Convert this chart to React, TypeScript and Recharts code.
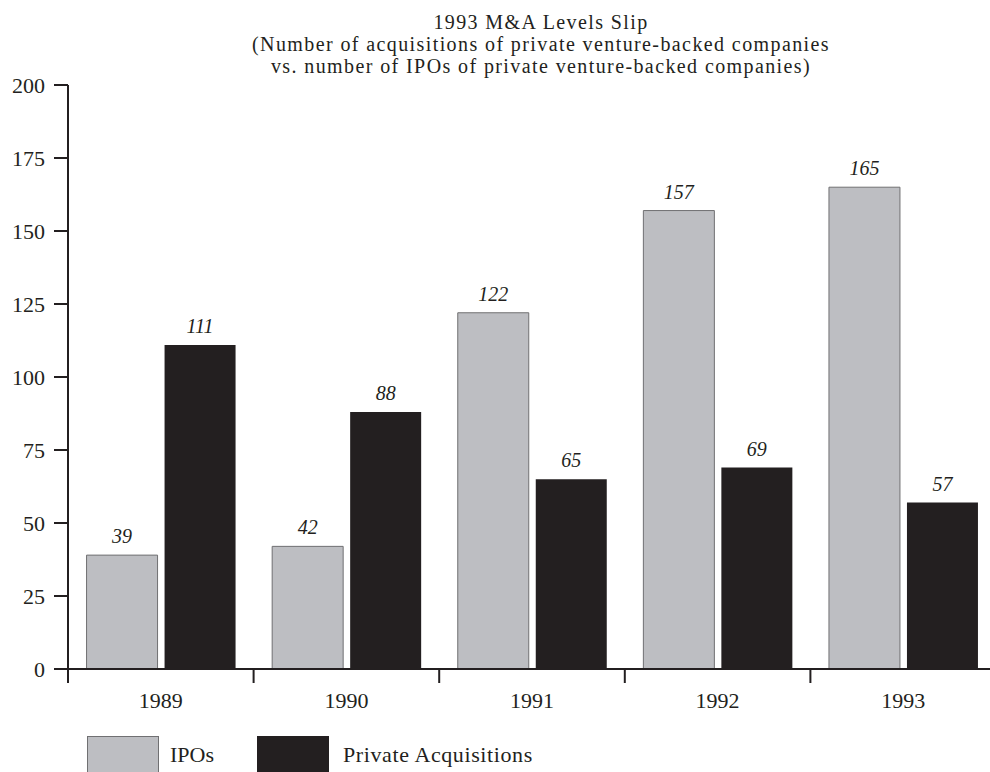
import { BarChart, Bar, XAxis, YAxis, LabelList } from 'recharts'

const years = ['1989', '1990', '1991', '1992', '1993']
const ipos = [39, 42, 122, 157, 165]
const acquisitions = [111, 88, 65, 69, 57]
const yTicks = [0, 25, 50, 75, 100, 125, 150, 175, 200]
const titleLines = [
  '1993 M&A Levels Slip',
  '(Number of acquisitions of private venture-backed companies',
  'vs. number of IPOs of private venture-backed companies)',
]

const data = years.map((year, i) => ({ year, ipos: ipos[i], acquisitions: acquisitions[i] }))

const FONT = '"Liberation Serif", serif'
const INK = '#231f20'
const GREY = '#bdbec2'
const BAND = 928 / years.length

const YearTick = ({ x, y, payload }: any) => (
  <g>
    <line x1={x - BAND / 2} x2={x - BAND / 2} y1={y - 1} y2={y + 14} stroke={INK} strokeWidth={2} />
    <text x={x} y={y + 39} textAnchor="middle" fill={INK} fontSize={22} fontFamily={FONT}>
      {payload.value}
    </text>
  </g>
)

export default function App() {
  return (
    <div style={{ position: 'absolute', left: 0, top: 0, width: 990, height: 772, overflow: 'hidden', background: '#fff', fontFamily: FONT }}>
      <svg width={990} height={84} style={{ position: 'absolute', left: 0, top: 0 }}>
        {titleLines.map((t, i) => (
          <text key={i} x={541} y={29 + i * 22} textAnchor="middle" fill={INK} fontSize={20} letterSpacing={1.4} fontFamily={FONT}>
            {t}
          </text>
        ))}
      </svg>
      <div style={{ position: 'absolute', left: 0, top: 0 }}>
        <BarChart
          width={1000}
          height={772}
          data={data}
          margin={{ top: 85, right: 4, bottom: 63, left: 0 }}
          barCategoryGap="10%"
          barGap={7}
        >
          <XAxis
            dataKey="year"
            height={40}
            axisLine={{ stroke: INK, strokeWidth: 2 }}
            tickLine={false}
            tickSize={0}
            tickMargin={0}
            tick={<YearTick />}
            interval={0}
          />
          <YAxis
            width={68}
            domain={[0, 200]}
            ticks={yTicks}
            interval={0}
            axisLine={{ stroke: INK, strokeWidth: 2 }}
            tickLine={{ stroke: INK, strokeWidth: 2 }}
            tickSize={14}
            tickMargin={9}
            tick={{ fill: INK, fontSize: 22, fontFamily: FONT }}
          />
          <Bar dataKey="ipos" fill={GREY} stroke="#707072" strokeWidth={1} isAnimationActive={false}>
            <LabelList dataKey="ipos" position="top" offset={12} fill={INK} fontSize={20} fontFamily={FONT} fontStyle="italic" />
          </Bar>
          <Bar dataKey="acquisitions" fill={INK} isAnimationActive={false}>
            <LabelList dataKey="acquisitions" position="top" offset={12} fill={INK} fontSize={20} fontFamily={FONT} fontStyle="italic" />
          </Bar>
        </BarChart>
      </div>
      <div style={{ position: 'absolute', left: 87, top: 736, width: 70, height: 40, background: GREY, border: '1px solid #707072' }} />
      <div style={{ position: 'absolute', left: 170, top: 742, fontSize: 22, color: INK }}>IPOs</div>
      <div style={{ position: 'absolute', left: 257, top: 736, width: 72, height: 40, background: INK }} />
      <div style={{ position: 'absolute', left: 343, top: 742, fontSize: 22, letterSpacing: 0.6, color: INK }}>Private Acquisitions</div>
    </div>
  )
}
